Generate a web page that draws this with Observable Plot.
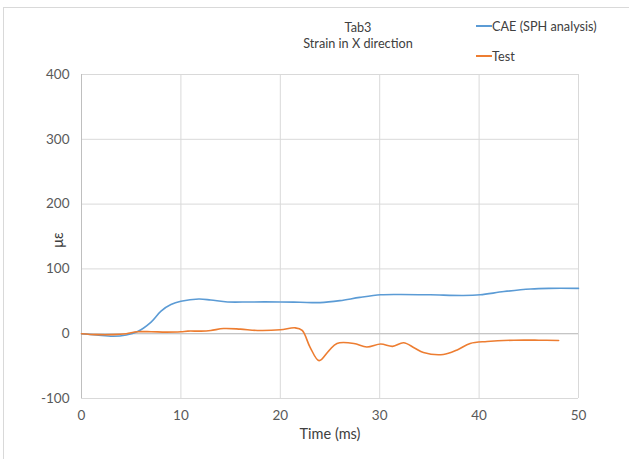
<!DOCTYPE html>
<html>
<head>
<meta charset="utf-8">
<script src="https://cdn.jsdelivr.net/npm/d3@7"></script>
<script src="https://cdn.jsdelivr.net/npm/@observablehq/plot@0.6"></script>
<style>
  html, body { margin: 0; padding: 0; background: #fff; }
  #wrap { position: relative; width: 629px; height: 459px; font-family: Lato, "Open Sans", sans-serif; color: #404040; }
  #frame { position: absolute; left: 3px; top: 7px; width: 640px; height: 460px; border-left: 1px solid #d9d9d9; border-top: 1px solid #d9d9d9; }
  .t { position: absolute; font-size: 12.7px; white-space: nowrap; }
  .sw { position: absolute; height: 0; width: 16px; border-top: 2px solid; }
  svg { position: absolute; left: 0; top: 0; }
</style>
</head>
<body>
<div id="wrap">
  <div id="frame"></div>
</div>
<script>
const title = ["Tab3", "Strain in X direction"];
const seriesNames = ["CAE (SPH analysis)", "Test"];
const seriesColors = ["#5B9BD5", "#ED7D31"];
const xLabel = "Time (ms)";
const yLabel = "με";
const xTicks = [0, 10, 20, 30, 40, 50];
const yTicks = [-100, 0, 100, 200, 300, 400];

const caeTime = [0, 1.5, 3.2, 4.5, 5.6, 7, 8, 9, 10, 11.8, 13, 14.7, 17, 20, 22, 24, 26, 28, 30.1, 32, 35.1, 38.4, 40.1, 42.5, 45.2, 47, 50];
const caeStrain = [0, -2, -4, -2, 3, 18, 35, 45, 50, 53.5, 52, 49, 49, 49, 48.5, 48, 51, 56, 60, 60.5, 60, 59, 60, 65, 69, 70, 70];

const testTime = [0, 1.5, 3.2, 4.5, 5.6, 7, 8.5, 10, 10.7, 12, 13, 14.3, 16, 17.7, 20, 21.5, 22.2, 23, 23.9, 24.9, 25.7, 27.4, 28.7, 30.1, 31.3, 32.4, 33.5, 34.4, 36.4, 37.8, 39.1, 40.8, 43.5, 46, 48];
const testStrain = [0, -1.5, -1.5, 0, 3, 3, 2.5, 3, 4, 4, 5, 8, 7, 5, 6, 9, 5, -21, -41.6, -26, -15, -15, -20.5, -16, -19.5, -14, -22, -29, -32, -25, -15, -12, -10, -10, -10.5];

const cae = caeTime.map((t, i) => ({t, v: caeStrain[i]}));
const test = testTime.map((t, i) => ({t, v: testStrain[i]}));

const fmt = d => String(d);

const chart = Plot.plot({
  width: 629,
  height: 459,
  marginLeft: 81,
  marginRight: 51,
  marginTop: 74,
  marginBottom: 61,
  style: { fontFamily: "Lato, 'Open Sans', sans-serif", fontSize: "13px", color: "#595959", background: "transparent" },
  x: { domain: [0, 50], ticks: xTicks, label: null },
  y: { domain: [-100, 400], ticks: yTicks, label: null },
  marks: [
    Plot.gridX(xTicks, { stroke: "#d9d9d9", strokeOpacity: 1 }),
    Plot.gridY(yTicks, { stroke: "#d9d9d9", strokeOpacity: 1 }),
    Plot.ruleY([0], { stroke: "#bfbfbf" }),
    Plot.ruleX([0], { stroke: "#bfbfbf" }),
    Plot.axisX(xTicks, { tickSize: 0, tickPadding: 12, fontSize: 13.5, fill: "#595959", tickFormat: fmt, label: xLabel, labelAnchor: "center", labelArrow: "none", labelOffset: 40 }),
    Plot.axisY(yTicks, { tickSize: 0, tickPadding: 12, fontSize: 13.5, fill: "#595959", tickFormat: fmt, label: null }),
    Plot.line(cae, { x: "t", y: "v", stroke: seriesColors[0], strokeWidth: 1.6, curve: "catmull-rom" }),
    Plot.line(test, { x: "t", y: "v", stroke: seriesColors[1], strokeWidth: 1.6, curve: "catmull-rom" })
  ]
});
const wrap = document.getElementById("wrap");
wrap.appendChild(chart);

chart.querySelectorAll("g[aria-label='x-axis label'] text").forEach(t => { t.setAttribute("fill", "#404040"); t.style.fontSize = "14.5px"; });

function addText(txt, left, top, extra) {
  const d = document.createElement("div");
  d.className = "t";
  d.textContent = txt;
  d.style.left = left + "px";
  d.style.top = top + "px";
  if (extra) Object.assign(d.style, extra);
  wrap.appendChild(d);
  return d;
}
addText(title[0], 358, 19, { transform: "translateX(-50%)" });
addText(title[1], 358, 35, { transform: "translateX(-50%)" });
addText(seriesNames[0], 492, 18);
addText(seriesNames[1], 492, 48);
[26, 56].forEach((y, i) => {
  const s = document.createElement("div");
  s.className = "sw";
  s.style.left = "476px";
  s.style.top = (y - 1) + "px";
  s.style.borderTopColor = seriesColors[i];
  wrap.appendChild(s);
});
addText(yLabel, 57, 240, { transform: "translate(-50%,-50%) rotate(-90deg)", fontSize: "14.5px" });
</script>
</body>
</html>
